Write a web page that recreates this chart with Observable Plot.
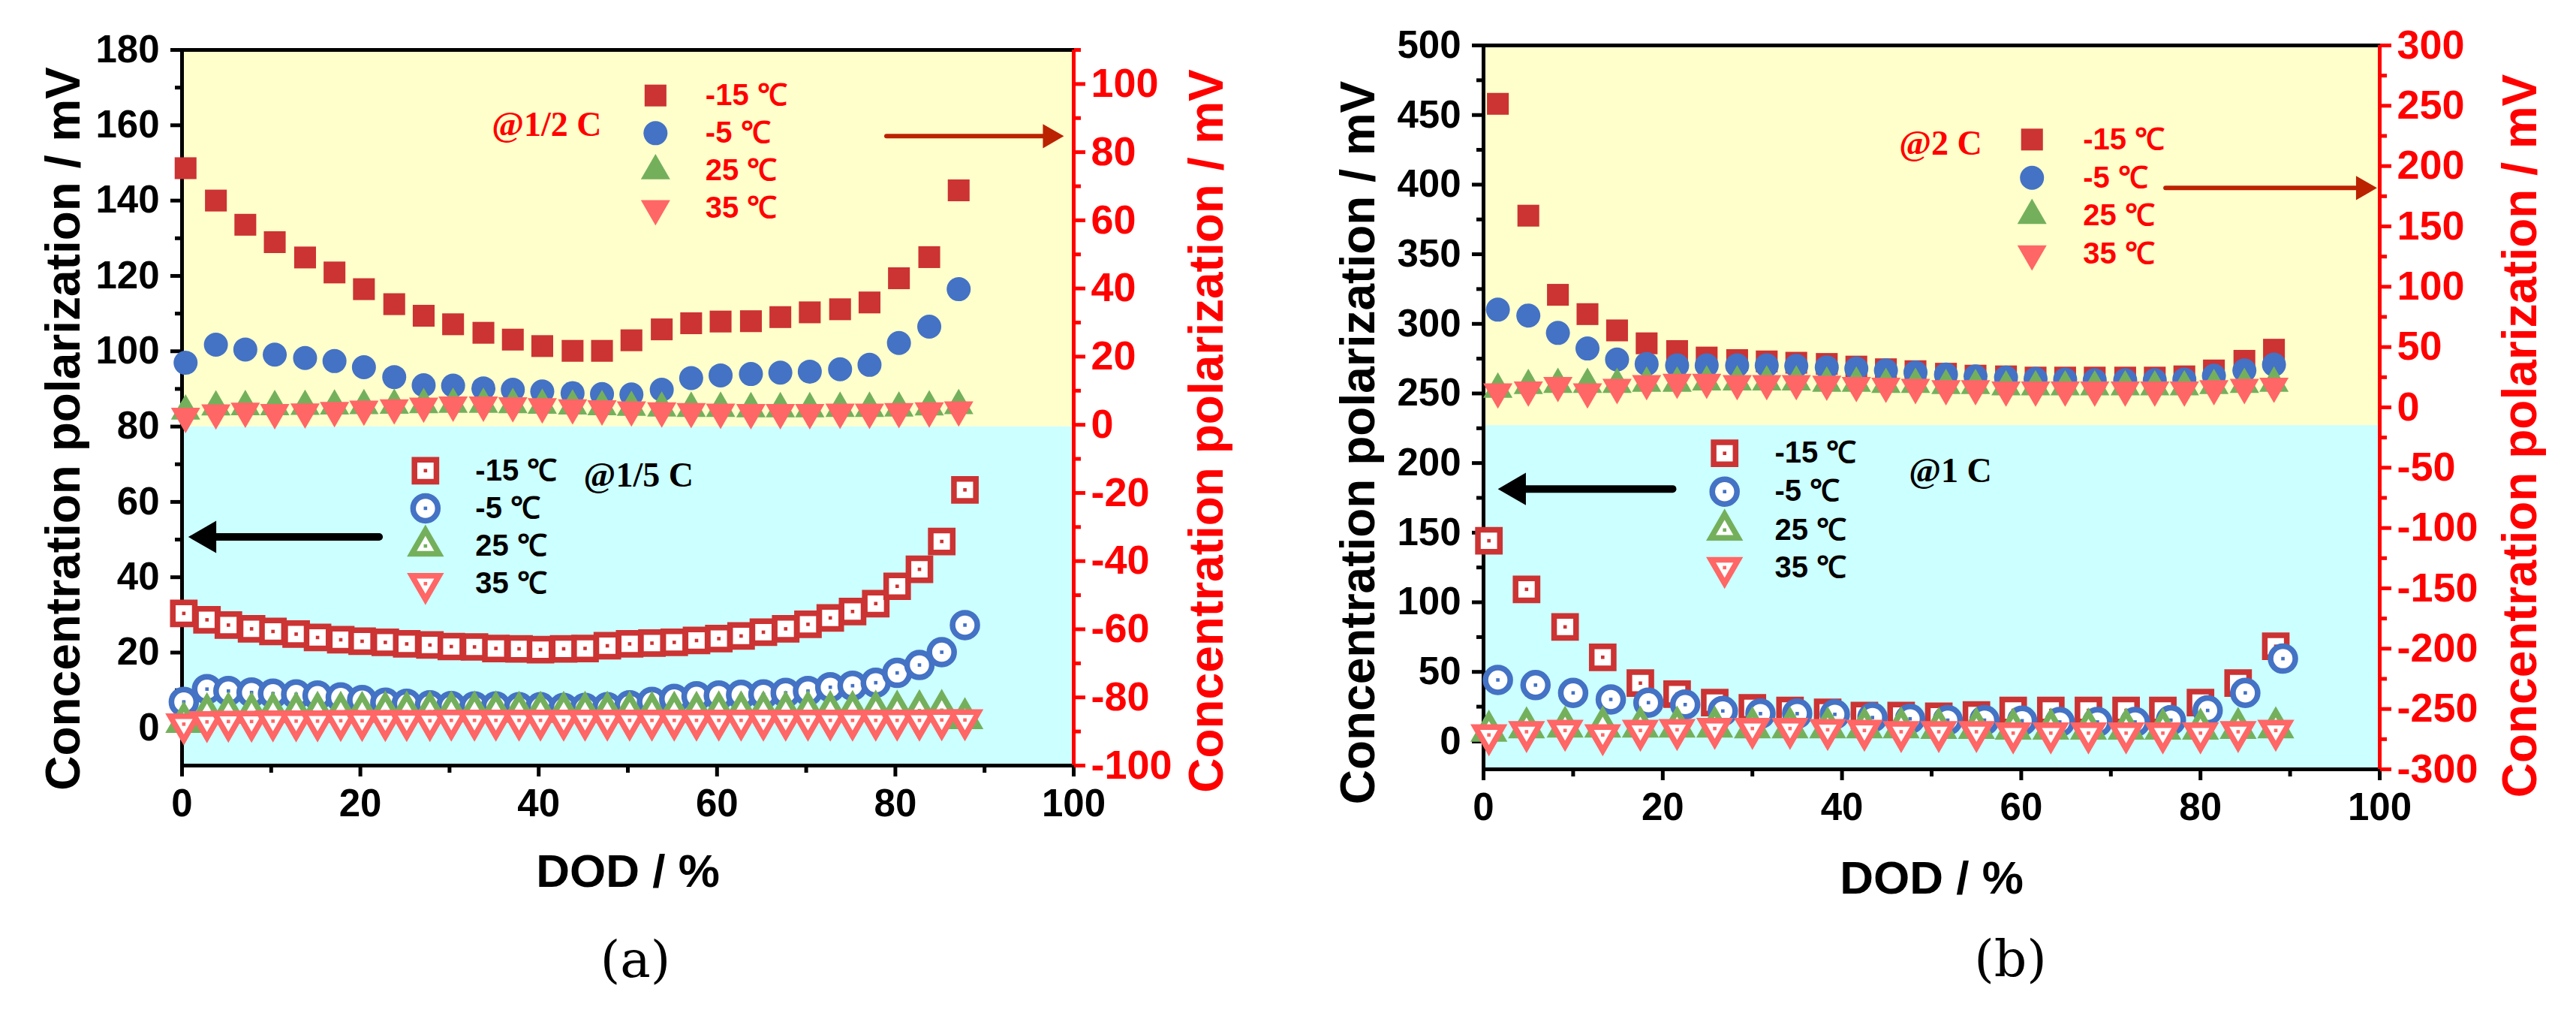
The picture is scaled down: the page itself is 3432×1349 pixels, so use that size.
<!DOCTYPE html>
<html>
<head>
<meta charset="utf-8">
<script src="https://cdn.jsdelivr.net/npm/d3@7"></script>
<script src="https://cdn.jsdelivr.net/npm/@observablehq/plot@0.6"></script>
<style>
  body { margin: 0; background: #fff; }
  #chart { position: relative; width: 3432px; height: 1349px; }
  #chartA, #chartB { position: absolute; top: 0; }
  #chartA { left: 0; }
  #chartB { left: 1716px; }
</style>
</head>
<body>
<div id="chart"><div id="chartA"></div><div id="chartB"></div></div>
<script>
// common
const temps = ["-15 ℃", "-5 ℃", "25 ℃", "35 ℃"];
const xDomain = [0, 100];
const xMajor = [0, 20, 40, 60, 80, 100];
const xMinor = [10, 30, 50, 70, 90];

// (a) @1/2 C  -> right axis (mV)
const dodHalf = [0.4, 3.8, 7.1, 10.4, 13.8, 17.1, 20.4, 23.8, 27.1, 30.4, 33.8, 37.1, 40.4, 43.8, 47.1, 50.4, 53.8, 57.1, 60.4, 63.8, 67.1, 70.4, 73.8, 77.1, 80.4, 83.8, 87.1];
const half_m15 = [75.3, 65.8, 58.7, 53.6, 49.1, 44.7, 39.8, 35.4, 32.0, 29.5, 27.0, 25.0, 23.1, 21.7, 21.7, 24.8, 28.0, 29.8, 30.3, 30.4, 31.6, 33.0, 33.9, 35.9, 43.0, 49.2, 68.8];
const half_m5 = [18.2, 23.5, 22.1, 20.6, 19.6, 18.7, 16.9, 14.0, 11.6, 11.5, 10.7, 10.3, 9.8, 9.3, 9.0, 8.9, 10.3, 13.7, 14.5, 14.9, 15.3, 15.6, 16.3, 17.6, 24.0, 28.8, 39.8];
const half_25 = [4.0, 5.2, 5.3, 5.3, 5.4, 5.5, 5.6, 5.7, 5.9, 6.0, 6.0, 5.9, 5.7, 5.5, 5.3, 5.1, 4.9, 4.8, 4.8, 4.7, 4.7, 4.7, 4.8, 4.8, 4.9, 5.2, 5.6];
const half_35 = [2.5, 3.5, 4.0, 3.6, 3.8, 4.2, 4.6, 5.0, 5.5, 5.8, 5.8, 5.6, 5.3, 5.0, 4.7, 4.4, 4.1, 3.9, 3.7, 3.6, 3.6, 3.6, 3.7, 3.7, 3.9, 4.1, 4.4];

// (a) @1/5 C  -> left axis (mV)
const dodFifth = [0.2, 2.8, 5.2, 7.8, 10.2, 12.8, 15.2, 17.8, 20.2, 22.8, 25.2, 27.8, 30.2, 32.8, 35.2, 37.8, 40.2, 42.8, 45.2, 47.7, 50.2, 52.7, 55.2, 57.7, 60.2, 62.7, 65.2, 67.7, 70.2, 72.7, 75.2, 77.8, 80.2, 82.7, 85.2, 87.8];
const fifth_m15 = [30.4, 28.7, 27.3, 26.3, 25.6, 24.9, 24.0, 23.4, 23.0, 22.7, 22.3, 22.0, 21.6, 21.5, 21.1, 21.0, 20.8, 21.0, 21.1, 21.8, 22.3, 22.5, 22.7, 23.2, 23.7, 24.4, 25.4, 26.3, 27.5, 29.2, 30.9, 33.0, 37.6, 42.1, 49.5, 63.2];
const fifth_m5 = [6.9, 10.3, 9.8, 9.4, 9.1, 8.9, 8.6, 8.1, 7.4, 6.7, 6.4, 6.0, 5.8, 5.7, 5.7, 5.5, 5.5, 5.3, 5.3, 5.5, 6.0, 6.9, 7.7, 8.4, 8.6, 8.8, 8.9, 9.3, 9.8, 10.8, 11.2, 12.0, 14.6, 16.7, 20.1, 27.3];
const fifth_25 = [1.5, 3.8, 4.0, 4.0, 4.1, 4.1, 4.2, 4.2, 4.2, 4.3, 4.3, 4.3, 4.3, 4.3, 4.3, 4.2, 4.2, 4.2, 4.2, 4.2, 4.2, 4.2, 4.2, 4.2, 4.3, 4.3, 4.3, 4.3, 4.4, 4.4, 4.4, 4.5, 4.5, 4.6, 4.7, 2.5];
const fifth_35 = [1.0, 1.6, 1.7, 1.7, 1.8, 1.8, 1.8, 1.9, 1.9, 1.9, 1.9, 1.9, 2.0, 2.0, 2.0, 2.0, 2.0, 2.0, 2.0, 2.0, 2.0, 2.0, 2.0, 2.0, 2.0, 2.0, 2.0, 2.0, 2.0, 2.0, 2.0, 2.0, 2.0, 2.0, 2.1, 2.1];

// (b) @2 C  -> right axis (mV)
const dodTwo = [1.6, 5.0, 8.3, 11.6, 14.9, 18.2, 21.6, 24.9, 28.3, 31.6, 34.9, 38.3, 41.6, 44.9, 48.2, 51.6, 54.9, 58.3, 61.6, 64.9, 68.2, 71.6, 74.9, 78.2, 81.5, 84.9, 88.2];
const two_m15 = [251.6, 158.9, 93.3, 77.3, 63.8, 53.1, 46.7, 41.3, 39.2, 38.1, 37.0, 36.0, 33.8, 31.6, 30.0, 27.9, 26.3, 25.7, 24.7, 24.7, 24.7, 24.7, 24.7, 25.7, 30.6, 38.6, 47.8];
const two_m5 = [81.0, 76.1, 61.7, 48.8, 39.7, 36.0, 34.8, 34.8, 34.8, 34.8, 34.4, 33.2, 32.2, 30.6, 29.0, 27.3, 25.7, 24.7, 23.6, 23.1, 22.5, 22.5, 22.5, 23.1, 26.3, 30.6, 35.4];
const two_25 = [15, 18, 19, 19, 19, 20, 20, 21, 21, 21, 21, 20, 20, 19, 19, 18, 18, 17, 17, 17, 17, 17, 17, 17, 18, 19, 20];
const two_35 = [12.9, 14.5, 18.2, 12.9, 16.6, 19.8, 20.9, 20.9, 19.8, 19.8, 19.8, 19.3, 18.2, 17.6, 16.6, 15.6, 15.6, 14.5, 14.5, 14.5, 14.5, 14.5, 14.5, 14.5, 15.6, 16.6, 17.6];

// (b) @1 C  -> left axis (mV)
const dodOne = [0.6, 4.8, 9.1, 13.3, 17.5, 21.6, 25.8, 30.0, 34.2, 38.4, 42.5, 46.6, 50.8, 55.0, 59.1, 63.3, 67.5, 71.7, 75.8, 80.0, 84.2, 88.4];
const dodOneCirc = [1.6, 5.8, 10.0, 14.2, 18.4, 22.5, 26.7, 30.9, 35.0, 39.2, 43.4, 47.6, 51.8, 55.9, 60.1, 64.3, 68.5, 72.7, 76.7, 80.8, 85.0, 89.2];
const one_m15 = [144.2, 109.3, 82.3, 60.5, 41.9, 34.0, 27.9, 24.2, 22.3, 20.9, 18.6, 18.6, 18.1, 19.1, 22.3, 22.3, 22.3, 22.3, 22.3, 27.9, 41.9, 68.4];
const one_m5 = [44.2, 40.5, 34.9, 30.2, 27.9, 26.5, 21.9, 20.0, 20.0, 19.5, 17.2, 16.3, 15.3, 15.3, 14.9, 14.0, 14.0, 14.0, 15.3, 22.3, 34.9, 59.5];
const one_25 = [7.5, 10, 10.5, 10.5, 10.5, 10.5, 10.5, 10, 10, 10, 10, 10, 9.5, 9.5, 9, 9, 9, 9, 9, 9, 9.5, 10];
const one_35 = [4.7, 7.0, 7.9, 4.7, 7.9, 8.4, 9.3, 9.3, 9.3, 8.4, 7.9, 7.0, 7.0, 7.0, 6.0, 6.0, 6.0, 6.0, 6.0, 6.0, 7.0, 7.9];

// styles
const colors = ["#CC3333", "#4472C4", "#74B05C", "#FF6666"];
const symbols = ["square", "circle", "triangle", "triangle"];
const rotations = [0, 0, 0, 180];
const filledR = [16.4, 16, 14.5, 14.5];
const hollowR = [16.5, 16.5, 13.5, 13.5];
const yTitle = "Concentration polarization / mV";
const xTitle = "DOD / %";
const sans = "'Liberation Sans', Arial, sans-serif";
const serif = "'Liberation Serif', 'Times New Roman', serif";

function seriesMarks(xs, ys, k, hollow, toLeft) {
  const pts = xs.map((x, i) => ({x, y: toLeft(ys[i])}));
  if (!hollow) {
    return [Plot.dot(pts, {x: "x", y: "y", symbol: symbols[k], rotate: rotations[k], r: filledR[k], fill: colors[k]})];
  }
  return [
    Plot.dot(pts, {x: "x", y: "y", symbol: symbols[k], rotate: rotations[k], r: hollowR[k], fill: "white", stroke: colors[k], strokeWidth: 7.5}),
    Plot.dot(pts, {x: "x", y: "y", symbol: "square", r: 2.6, fill: colors[k]})
  ];
}

function legendMarks(lg, hollow, textColor) {
  let m = [];
  lg.rows.forEach((y, k) => { m = m.concat(seriesMarks([lg.x], [y], k, hollow, d => d)); });
  m.push(Plot.text(temps.map((t, k) => ({t, x: lg.textX, y: lg.rows[k]})),
    {x: "x", y: "y", text: "t", textAnchor: "start", fontSize: 40, fontWeight: "bold", fill: textColor}));
  m.push(Plot.text([lg.note], {x: () => lg.noteX, y: () => lg.noteY, text: d => d,
    fontFamily: serif, fontWeight: "bold", fontSize: 46, fill: textColor}));
  return m;
}

function arrowMarks(a, color, width, headR) {
  const tipOff = 1.555 * headR;
  const dir = a.x2 < a.x1 ? -90 : 90;
  return [
    Plot.arrow([a], {x1: "x1", x2: "x2", y1: "y", y2: "y", stroke: color, strokeWidth: width, headLength: 0, insetEnd: tipOff}),
    Plot.dot([a], {x: "x2", y: "y", symbol: "triangle", rotate: dir, r: headR, fill: color, dx: dir < 0 ? tipOff : -tipOff})
  ];
}

function drawPanel(p) {
  const toLeft = d3.scaleLinear().domain(p.rightDomain).range(p.leftDomain);
  const toRight = v => toLeft.invert(v);
  let marks = [
    Plot.rect([{y1: p.leftDomain[0], y2: p.split, fill: "#CCFFFF"}, {y1: p.split, y2: p.leftDomain[1], fill: "#FFFFCC"}],
      {x1: () => xDomain[0], x2: () => xDomain[1], y1: "y1", y2: "y2", fill: "fill"}),
    Plot.frame({stroke: "black", strokeWidth: 5}),
    Plot.axisX(xMajor, {anchor: "bottom", tickSize: 15, tickPadding: 16, strokeWidth: 5, fontSize: 51, fontWeight: "bold", tickFormat: d => String(d), label: null}),
    Plot.axisX(xMinor, {anchor: "bottom", tickSize: 10, strokeWidth: 5, tickFormat: () => "", label: null}),
    Plot.axisY(p.leftMajor, {anchor: "left", tickSize: 15, tickPadding: 15, strokeWidth: 5, fontSize: 51, fontWeight: "bold", tickFormat: d => String(d), label: null}),
    Plot.axisY(p.leftMinor, {anchor: "left", tickSize: 9, strokeWidth: 5, tickFormat: () => "", label: null}),
    Plot.ruleX([xDomain[1]], {stroke: "#FF0000", strokeWidth: 5}),
    Plot.axisY(p.rightMajor.map(toLeft), {anchor: "right", tickSize: 15, tickPadding: 8, strokeWidth: 5, fontSize: 54, fontWeight: "bold", color: "#FF0000",
      tickFormat: d => String(Math.round(toRight(d))), label: null}),
    Plot.axisY(p.rightMinor.map(toLeft), {anchor: "right", tickSize: 9, strokeWidth: 5, color: "#FF0000", tickFormat: () => "", label: null}),
    Plot.text([yTitle], {text: d => d, frameAnchor: "left", textAnchor: "middle", lineAnchor: "middle", rotate: -90,
      dx: p.leftTitle[0], dy: p.leftTitle[1], fontSize: 64, fontWeight: "bold", fill: "black"}),
    Plot.text([yTitle], {text: d => d, frameAnchor: "right", textAnchor: "middle", lineAnchor: "middle", rotate: -90,
      dx: p.rightTitle[0], dy: p.rightTitle[1], fontSize: 64, fontWeight: "bold", fill: "#FF0000"}),
    Plot.text([xTitle], {text: d => d, frameAnchor: "bottom", textAnchor: "middle", lineAnchor: "middle",
      dy: p.xTitleDy, fontSize: 62, fontWeight: "bold", fill: "black"}),
    Plot.text([p.caption], {text: d => d, frameAnchor: "bottom", textAnchor: "middle", lineAnchor: "middle",
      dx: p.captionPos[0], dy: p.captionPos[1], fontSize: 68, fontWeight: "normal", fontFamily: "'DejaVu Serif', serif", fill: "black"})
  ];
  // right-axis series (filled), left-axis series (hollow)
  p.rightSeries.forEach((s, k) => { marks = marks.concat(seriesMarks(p.rightX, s, k, false, toLeft)); });
  p.leftSeries.forEach((s, k) => { marks = marks.concat(seriesMarks(p.leftX[k], s, k, true, d => d)); });
  marks = marks.concat(legendMarks(p.rightLegend, false, "#FF0000"));
  marks = marks.concat(legendMarks(p.leftLegend, true, "black"));
  marks = marks.concat(arrowMarks(p.leftArrow, "black", 10, 16));
  marks = marks.concat(arrowMarks(p.rightArrow, "#BB2200", 6, 12));

  return Plot.plot({
    width: 1716,
    height: 1349,
    marginLeft: p.margins[0],
    marginRight: p.margins[1],
    marginTop: p.margins[2],
    marginBottom: p.margins[3],
    x: {domain: xDomain},
    y: {domain: p.leftDomain},
    color: {type: "identity"},
    style: {fontFamily: sans, fontWeight: "bold", background: "white", overflow: "visible"},
    marks
  });
}

const chartA = drawPanel({
  leftDomain: [-10, 180], rightDomain: [-100, 110], split: 80,
  leftMajor: [0, 20, 40, 60, 80, 100, 120, 140, 160, 180],
  leftMinor: [10, 30, 50, 70, 90, 110, 130, 150, 170],
  rightMajor: [-100, -80, -60, -40, -20, 0, 20, 40, 60, 80, 100],
  rightMinor: [-90, -70, -50, -30, -10, 10, 30, 50, 70, 90, 110],
  rightX: dodHalf, rightSeries: [half_m15, half_m5, half_25, half_35],
  leftX: [dodFifth, dodFifth, dodFifth, dodFifth], leftSeries: [fifth_m15, fifth_m5, fifth_25, fifth_35],
  rightLegend: {x: 53.1, rows: [167.9, 157.9, 147.9, 137.9], textX: 58.7, note: "@1/2 C", noteX: 40.9, noteY: 160.1},
  leftLegend: {x: 27.3, rows: [68.3, 58.3, 48.3, 38.3], textX: 32.9, note: "@1/5 C", noteX: 51.2, noteY: 67.1},
  leftArrow: {x1: 22.1, x2: 0.7, y: 50.7},
  rightArrow: {x1: 79.0, x2: 98.9, y: 157.1},
  margins: [242, 286, 66, 330],
  leftTitle: [-157, 28], rightTitle: [178, 31], xTitleDy: 142,
  caption: "(a)", captionPos: [10, 260]
});

const chartB = drawPanel({
  leftDomain: [-20, 500], rightDomain: [-300, 300], split: 227,
  leftMajor: [0, 50, 100, 150, 200, 250, 300, 350, 400, 450, 500],
  leftMinor: [25, 75, 125, 175, 225, 275, 325, 375, 425, 475],
  rightMajor: [-300, -250, -200, -150, -100, -50, 0, 50, 100, 150, 200, 250, 300],
  rightMinor: [-275, -225, -175, -125, -75, -25, 25, 75, 125, 175, 225, 275],
  rightX: dodTwo, rightSeries: [two_m15, two_m5, two_25, two_35],
  leftX: [dodOne, dodOneCirc, dodOne, dodOne], leftSeries: [one_m15, one_m5, one_25, one_35],
  rightLegend: {x: 61.2, rows: [432.4, 404.9, 377.8, 350.3], textX: 66.9, note: "@2 C", noteX: 51.0, noteY: 429.2},
  leftLegend: {x: 26.9, rows: [207.0, 179.5, 151.9, 124.9], textX: 32.5, note: "@1 C", noteX: 52.1, noteY: 194.1},
  leftArrow: {x1: 21.1, x2: 1.6, y: 181.4},
  rightArrow: {x1: 76.1, x2: 99.7, y: 397.6},
  margins: [260, 262, 60, 325],
  leftTitle: [-166, 47], rightTitle: [188, 38], xTitleDy: 146,
  caption: "(b)", captionPos: [105, 254]
});

d3.select("#chartA").append(() => chartA);
d3.select("#chartB").append(() => chartB);
</script>
</body>
</html>
